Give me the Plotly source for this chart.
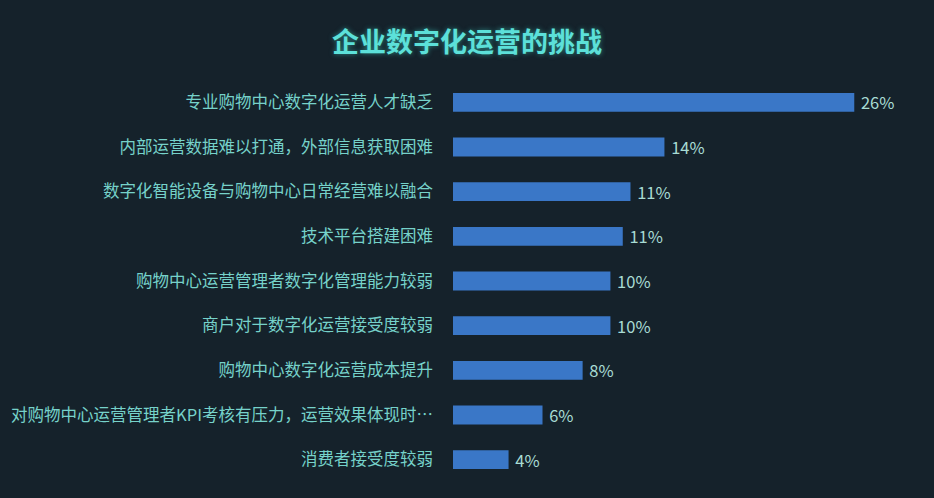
import plotly.graph_objects as go

title = "企业数字化运营的挑战"
categories = [
    "专业购物中心数字化运营人才缺乏",
    "内部运营数据难以打通，外部信息获取困难",
    "数字化智能设备与购物中心日常经营难以融合",
    "技术平台搭建困难",
    "购物中心运营管理者数字化管理能力较弱",
    "商户对于数字化运营接受度较弱",
    "购物中心数字化运营成本提升",
    "对购物中心运营管理者KPI考核有压力，运营效果体现时…",
    "消费者接受度较弱",
]
values = [26.0, 13.7, 11.5, 11.0, 10.2, 10.2, 8.4, 5.8, 3.6]
value_labels = ["26%", "14%", "11%", "11%", "10%", "10%", "8%", "6%", "4%"]

FONT = "Noto Sans CJK SC"
BG = "#15222b"

fig = go.Figure(
    go.Bar(
        x=values,
        y=categories,
        orientation="h",
        width=0.42,
        marker=dict(color="#3a77c7", line=dict(width=0)),
        text=[" " + t for t in value_labels],
        textposition="outside",
        constraintext="none",
        textfont=dict(family=FONT, size=16.5, color="#a8dcd4"),
        cliponaxis=False,
        hoverinfo="skip",
    )
)

fig.update_layout(
    width=934,
    height=498,
    paper_bgcolor=BG,
    plot_bgcolor="rgba(0,0,0,0)",
    margin=dict(l=453, r=18, t=80, b=16, autoexpand=False),
    showlegend=False,
    title=dict(
        text="<b>" + title + "</b>",
        x=0.5,
        xanchor="center",
        y=0.915,
        yanchor="middle",
        font=dict(family=FONT, size=27, color="#5ce0d9",
                  shadow="0px 0px 5px rgba(60,200,190,0.6)"),
    ),
    xaxis=dict(range=[0, 30], visible=False, fixedrange=True),
    yaxis=dict(
        autorange="reversed",
        automargin=False,
        showgrid=False,
        zeroline=False,
        showline=False,
        ticks="",
        ticklabelstandoff=19,
        tickfont=dict(family=FONT, size=16.5, color="#76d2ca"),
        fixedrange=True,
    ),
)

fig.write_html(
    "out.html",
    config={"displayModeBar": False},
    post_script="document.body.style.margin='0';document.body.style.background='" + BG + "';",
)
